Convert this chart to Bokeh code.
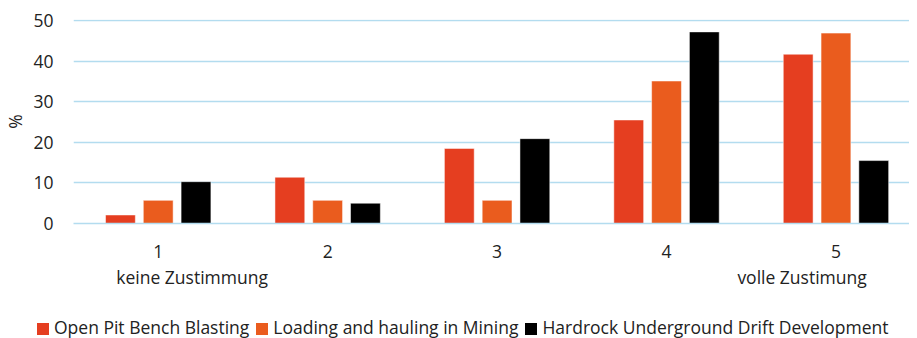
from bokeh.plotting import figure
from bokeh.models import (ColumnDataSource, Range1d, FixedTicker, LinearAxis, Div)
from bokeh.layouts import column
from bokeh.transform import dodge
from bokeh.embed import file_html
from bokeh.resources import INLINE

# ---- data ----
categories = ["1", "2", "3", "4", "5"]
scale_notes = ["keine Zustimmung", "volle Zustimung"]
scale_note_pos = [1.2, 4.8]
series_names = ["Open Pit Bench Blasting", "Loading and hauling in Mining",
                "Hardrock Underground Drift Development"]
open_pit = [2.1, 11.4, 18.5, 25.5, 41.7]
loading = [5.7, 5.7, 5.7, 35.1, 46.9]
hardrock = [10.3, 5.0, 20.9, 47.2, 15.5]
y_ticks = [0, 10, 20, 30, 40, 50]

colors = ["#e53e20", "#ea5c1e", "#000000"]
FONT = "Open Sans"
FS = "17.5px"
TXT = "#222222"
GRID = "#b3dcef"

pos = list(range(1, len(categories) + 1))
src = ColumnDataSource(dict(x=pos, a=open_pit, b=loading, c=hardrock))

p = figure(width=909, height=300, output_backend="svg", toolbar_location=None,
           x_range=Range1d(0.5, 5.434), y_range=Range1d(0, 50.25),
           min_border_left=68, min_border_right=0, min_border_top=19,
           min_border_bottom=77, x_axis_type=None, outline_line_color=None)

bw = 0.176
offs = [-0.223, 0.0, 0.223]
for col, off, c in zip(["a", "b", "c"], offs, colors):
    p.vbar(x=dodge("x", off, range=p.x_range), top=col, width=bw, bottom=0,
           source=src, fill_color=c, line_color="white", line_alpha=0.5,
           line_width=1)

def plain(ax):
    ax.major_tick_line_color = None
    ax.minor_tick_line_color = None
    ax.major_tick_out = 0
    ax.major_tick_in = 0
    ax.minor_tick_out = 0
    ax.minor_tick_in = 0
    ax.major_label_text_font = FONT
    ax.major_label_text_font_size = FS
    ax.major_label_text_color = TXT

# y axis
yax = p.yaxis[0]
yax.ticker = FixedTicker(ticks=y_ticks)
yax.axis_line_color = None
plain(yax)
yax.major_label_standoff = 20
yax.axis_label = "%"
yax.axis_label_text_font = FONT
yax.axis_label_text_font_size = FS
yax.axis_label_text_font_style = "normal"
yax.axis_label_text_color = TXT
yax.axis_label_standoff = 3

p.ygrid.ticker = FixedTicker(ticks=y_ticks)
p.ygrid.grid_line_color = GRID
p.ygrid.grid_line_width = 1.5
p.xgrid.grid_line_color = None

# x axis (category numbers)
xax = LinearAxis(ticker=FixedTicker(ticks=pos),
                 major_label_overrides={float(i): c for i, c in zip(pos, categories)})
plain(xax)
xax.axis_line_color = GRID
xax.axis_line_width = 1.5
xax.major_label_standoff = 21
p.add_layout(xax, "below")

# second line: scale end descriptions
xax2 = LinearAxis(ticker=FixedTicker(ticks=scale_note_pos),
                  major_label_overrides={float(x): s for x, s in zip(scale_note_pos, scale_notes)})
plain(xax2)
xax2.axis_line_color = None
xax2.major_label_standoff = 4
p.add_layout(xax2, "below")

# legend strip (HTML text)
sq = ('<span style="display:inline-block;width:12px;height:12px;background:{c};'
      'margin-right:5px;vertical-align:-1px"></span>')
gap = '<span style="display:inline-block;width:7px"></span>'
items = gap.join(sq.format(c=c) + n for n, c in zip(series_names, colors))
legend_html = (f'<div style="font-family:\'{FONT}\';font-size:{FS};color:{TXT};'
               f'white-space:nowrap;padding-left:32px;padding-top:13px;'
               f'line-height:18px">{items}</div>')
leg = Div(text=legend_html, width=909, height=38)

layout = column(p, leg, spacing=0)
open("out.html", "w").write(file_html(layout, INLINE))
